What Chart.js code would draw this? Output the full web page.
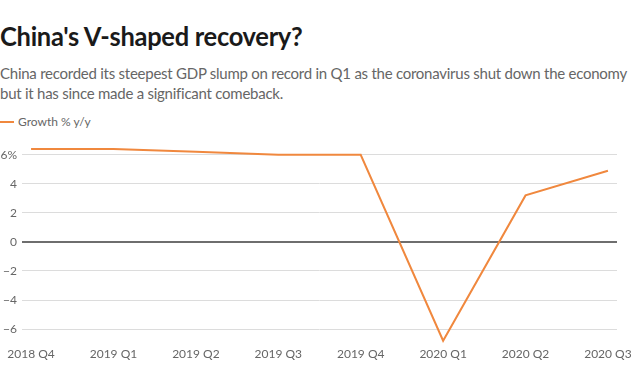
<!DOCTYPE html>
<html><head><meta charset="utf-8">
<script src="https://cdn.jsdelivr.net/npm/chart.js@4"></script>
<style>
html,body{margin:0;padding:0;background:#fff;width:640px;height:378px;overflow:hidden;font-family:Lato,"Noto Sans",sans-serif;}
#title{position:absolute;left:0;top:20px;font-size:26px;font-weight:700;color:#1a1a1a;letter-spacing:-0.3px;white-space:nowrap;transform:scaleX(0.98);transform-origin:0 0;}
#sub{position:absolute;left:0;top:63px;font-size:15px;line-height:20px;color:#666;letter-spacing:-0.25px;width:630px;}
#legend{position:absolute;left:0;top:114px;font-size:12px;color:#666;white-space:nowrap;}
#legend span.sw{display:inline-block;width:14px;height:2px;background:#f0883e;vertical-align:middle;margin-right:4px;position:relative;top:-1px;}
#wrap{position:absolute;left:0;top:128px;width:640px;height:250px;}
</style></head>
<body>
<div id="title">China's V-shaped recovery?</div>
<div id="sub">China recorded its steepest GDP slump on record in Q1 as the coronavirus shut down the economy but it has since made a significant comeback.</div>
<div id="legend"><span class="sw"></span>Growth % y/y</div>
<div id="wrap"><canvas id="c"></canvas></div>
<script>
const categories = ["2018 Q4","2019 Q1","2019 Q2","2019 Q3","2019 Q4","2020 Q1","2020 Q2","2020 Q3"];
const growth = [6.4, 6.4, 6.2, 6.0, 6.0, -6.8, 3.2, 4.9];
const yTicks = [-6,-4,-2,0,2,4,6];

new Chart(document.getElementById('c'), {
  type: 'line',
  data: {
    datasets: [{
      label: 'Growth % y/y',
      data: growth.map((v,i)=>({x:i,y:v})),
      borderColor: '#f0883e',
      borderWidth: 2,
      pointRadius: 0,
      tension: 0,
      fill: false
    }]
  },
  options: {
    responsive: true,
    maintainAspectRatio: false,
    animation: false,
    layout: {padding: {top: 10, right: 23, bottom: 14, left: 0}},
    plugins: {legend: {display: false}, tooltip: {enabled: false}},
    scales: {
      x: {
        type: 'linear',
        min: -0.11, max: 7.11,
        afterBuildTicks: s => { s.ticks = categories.map((c,i)=>({value:i})); },
        grid: {display: false, drawTicks: false},
        border: {display: false},
        ticks: {
          color: '#666', font: {family: 'Lato', size: 12}, padding: 3,
          maxRotation: 0, autoSkip: false,
          callback: v => categories[v]
        }
      },
      y: {
        min: -7, max: 7,
        afterBuildTicks: s => { s.ticks = yTicks.map(v=>({value:v})); },
        afterFit: s => { s.width = 22; },
        border: {display: false},
        grid: {
          drawTicks: false,
          color: c => c.tick && c.tick.value === 0 ? '#6e6e6e' : '#dcdcdc',
          lineWidth: c => c.tick && c.tick.value === 0 ? 2 : 1
        },
        ticks: {
          color: '#666', font: {family: 'Lato', size: 12}, padding: 5,
          callback: v => v === 6 ? '6%' : (v < 0 ? '\u2212' + Math.abs(v) : String(v))
        }
      }
    }
  }
});
</script>
</body></html>
